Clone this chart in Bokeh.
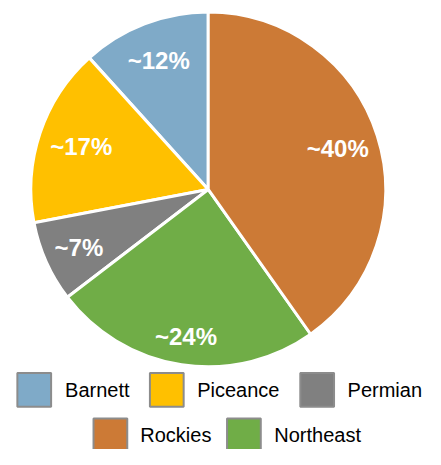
import numpy as np
from bokeh.plotting import figure
from bokeh.models import Range1d, ColumnDataSource
from bokeh.core.properties import value
from bokeh.embed import file_html
from bokeh.resources import INLINE

# ---- data (pie order: anticlockwise from 12 o'clock) ----
names = ["Barnett", "Piceance", "Permian", "Northeast", "Rockies"]
shares = [11.7, 16.3, 7.4, 24.4, 40.2]
labels = ["~12%", "~17%", "~7%", "~24%", "~40%"]
colors = ["#7FAAC8", "#FFC000", "#808080", "#70AD47", "#CC7A36"]
legend_rows = [["Barnett", "Piceance", "Permian"], ["Rockies", "Northeast"]]

# ---- layout (pixels, y measured upward) ----
W, H = 425, 449
s = 0.964
cx, cy, R = 215.5 * s, H - 196 * s, 184.0 * s
label_radius_px = [143 * s, 139 * s, 147 * s, 154 * s, 141 * s]
row_y = [H - 404 * s, H - 451 * s]
row_square_x = [[35 * s, 172.5 * s, 328.5 * s], [114 * s, 252.5 * s]]
row_text_x = [[67 * s, 204 * s, 360 * s], [145 * s, 284 * s]]
sq = 35 * s

p = figure(width=W, height=H, output_backend="svg", toolbar_location=None,
           x_range=Range1d(0, W), y_range=Range1d(0, H), min_border=0)
p.axis.visible = False
p.grid.visible = False
p.outline_line_color = None
p.background_fill_color = "white"
p.border_fill_color = "white"

frac = np.array(shares) / np.sum(shares)
ends = np.pi / 2 + np.cumsum(frac) * 2 * np.pi
starts = ends - frac * 2 * np.pi
mids = (starts + ends) / 2

src = ColumnDataSource(dict(name=names, start=starts, end=ends, color=colors))
p.wedge(x=cx, y=cy, radius=R, start_angle="start", end_angle="end",
        direction="anticlock", fill_color="color", line_color="white",
        line_width=3, source=src)

lab = ColumnDataSource(dict(
    x=cx + np.array(label_radius_px) * np.cos(mids),
    y=cy + np.array(label_radius_px) * np.sin(mids),
    text=labels))
p.text(x="x", y="y", text="text", source=lab, text_color="white",
       text_font=value("Liberation Sans"), text_font_style="bold",
       text_font_size="24px", text_align="center", text_baseline="middle")

color_of = dict(zip(names, colors))
for row, y, xs, txs in zip(legend_rows, row_y, row_square_x, row_text_x):
    p.rect(x=xs, y=[y] * len(xs), width=sq, height=sq,
           fill_color=[color_of[n] for n in row], line_color="#8C8C8C",
           line_width=2)
    p.text(x=txs, y=[y] * len(txs), text=row, text_color="#000000",
           text_font=value("Liberation Sans"), text_font_size="20px",
           text_align="left", text_baseline="middle")

open("out.html", "w").write(file_html(p, INLINE))
